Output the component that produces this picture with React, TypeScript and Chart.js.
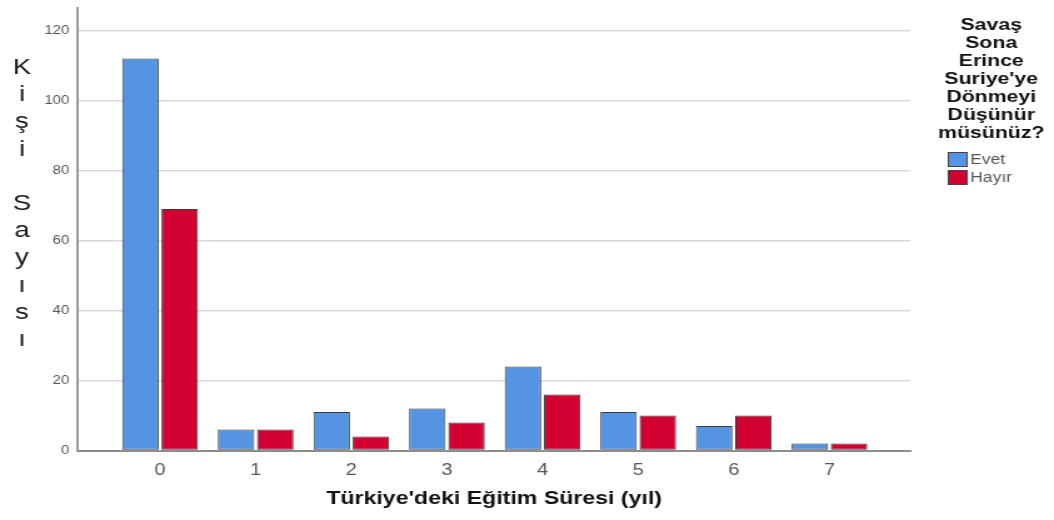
import React, { useEffect, useRef } from "react";
import { Chart, registerables } from "chart.js";

Chart.register(...registerables);

const categories = [0, 1, 2, 3, 4, 5, 6, 7];
const evetValues = [112, 6, 11, 12, 24, 11, 7, 2];
const hayirValues = [69, 6, 4, 8, 16, 10, 10, 2];
const seriesLabels = ["Evet", "Hayır"];
const seriesColors = ["#5494E2", "#D20030"];
const yTicks = [0, 20, 40, 60, 80, 100, 120];
const yTitleLetters = ["K", "i", "ş", "i", "", "S", "a", "y", "ı", "s", "ı"];
const legendTitleLines = ["Savaş", "Sona", "Erince", "Suriye'ye", "Dönmeyi", "Düşünür", "müsünüz?"];
const xTitle = "Türkiye'deki Eğitim Süresi (yıl)";

const W = 843; // internal width, stretched to 1054 by CSS
const H = 520;
const FONT = "'Liberation Sans', Arial, sans-serif";

const decorPlugin = {
  id: "decor",
  afterDraw(chart: any) {
    const ctx = chart.ctx;
    ctx.save();
    // vertical stacked y-axis title
    ctx.fillStyle = "#1a1a1a";
    ctx.font = `22px ${FONT}`;
    ctx.textAlign = "center";
    ctx.textBaseline = "middle";
    yTitleLetters.forEach((ch, i) => {
      if (ch) ctx.fillText(ch, 17.6, 68 + i * 27.2);
    });
    // legend title
    ctx.fillStyle = "#111";
    ctx.font = `bold 17px ${FONT}`;
    legendTitleLines.forEach((line, i) => {
      ctx.fillText(line, 792.8, 25 + i * 18.1);
    });
    // legend items
    chart.data.datasets.forEach((ds: any, i: number) => {
      const y = 152 + i * 18;
      ctx.fillStyle = ds.backgroundColor;
      ctx.fillRect(758.5, y, 15, 15);
      ctx.strokeStyle = "#444";
      ctx.lineWidth = 1;
      ctx.strokeRect(758.5, y + 0.5, 15, 14);
      ctx.fillStyle = "#555";
      ctx.font = `14px ${FONT}`;
      ctx.textAlign = "left";
      ctx.fillText(ds.label, 776, y + 8);
    });
    ctx.restore();
  },
};

export default function App() {
  const ref = useRef<HTMLCanvasElement>(null);

  useEffect(() => {
    if (!ref.current) return;
    const chart = new Chart(ref.current, {
      type: "bar",
      data: {
        datasets: [
          {
            label: seriesLabels[0],
            data: categories.map((c, i) => ({ x: c, y: evetValues[i] })),
            backgroundColor: seriesColors[0],
            borderColor: "#3a3a3a",
            borderWidth: 1,
            borderSkipped: false,
          },
          {
            label: seriesLabels[1],
            data: categories.map((c, i) => ({ x: c, y: hayirValues[i] })),
            backgroundColor: seriesColors[1],
            borderColor: "#3a3a3a",
            borderWidth: 1,
            borderSkipped: false,
          },
        ],
      },
      options: {
        responsive: false,
        devicePixelRatio: 1,
        animation: false,
        layout: { padding: { left: 0, right: 115, top: 8, bottom: 0 } },
        datasets: { bar: { categoryPercentage: 0.82, barPercentage: 0.93 } },
        plugins: {
          legend: { display: false },
          tooltip: { enabled: false },
        },
        scales: {
          x: {
            type: "linear",
            min: -0.858,
            max: 7.845,
            offset: false,
            grid: { display: false, offset: false },
            border: { display: true, color: "#8c8c8c", width: 2 },
            ticks: {
              stepSize: 1,
              includeBounds: false,
              autoSkip: false,
              maxRotation: 0,
              color: "#555",
              padding: 2,
              font: { family: FONT, size: 16 },
              callback: (v: any) => (categories.includes(Number(v)) ? String(v) : ""),
            },
            title: {
              display: true,
              text: xTitle,
              color: "#111",
              font: { family: FONT, size: 18.5, weight: "bold" },
              padding: { top: 0, bottom: 10 },
            },
            afterFit: (s: any) => {
              s.height = 69.5;
              s.paddingLeft = 0;
              s.paddingRight = 0;
            },
          },
          y: {
            min: 0,
            max: 126.4,
            grid: { color: "#d9d9d9", lineWidth: 1.5, drawTicks: false },
            border: { display: true, color: "#9a9a9a", width: 2 },
            afterBuildTicks: (s: any) => {
              s.ticks = yTicks.map((v) => ({ value: v }));
            },
            ticks: {
              color: "#555",
              padding: 7,
              font: { family: FONT, size: 12 },
            },
            afterFit: (s: any) => {
              s.width = 62.4;
              s.paddingTop = 0;
              s.paddingBottom = 0;
            },
          },
        },
      },
      plugins: [decorPlugin],
    } as any);
    return () => chart.destroy();
  }, []);

  return (
    <div style={{ position: "fixed", left: 0, top: 0, width: "1054px", height: "520px", background: "#fff" }}>
      <canvas
        ref={ref}
        width={W}
        height={H}
        style={{ width: "1054px", height: "520px", display: "block" }}
      />
    </div>
  );
}
